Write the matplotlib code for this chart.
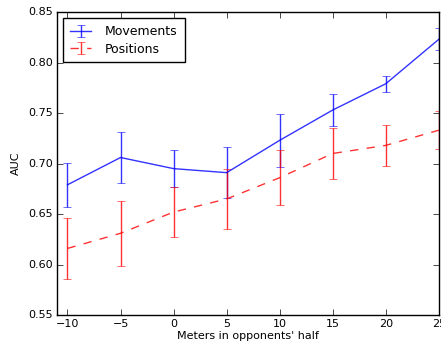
import matplotlib
matplotlib.use('Agg')
from matplotlib import pyplot as plt
import numpy as np

meters = [-10, -5, 0, 5, 10, 15, 20, 25]

# Movements: mean AUC and error bar half-widths
mov_auc = [0.679, 0.706, 0.695, 0.691, 0.723, 0.753, 0.779, 0.823]
mov_err = [0.022, 0.025, 0.018, 0.025, 0.026, 0.016, 0.008, 0.011]

# Positions
pos_auc = [0.616, 0.631, 0.652, 0.665, 0.686, 0.710, 0.718, 0.733]
pos_err = [0.030, 0.032, 0.025, 0.030, 0.027, 0.025, 0.020, 0.019]

plt.style.use('classic')
fig = plt.figure(figsize=(4.41, 3.44), dpi=100, facecolor='white')
ax = fig.add_axes([0.129, 0.084, 0.866, 0.881])

ax.errorbar(meters, mov_auc, yerr=mov_err, color='b', linestyle='-',
            capsize=3, alpha=0.8, label='Movements')
ax.errorbar(meters, pos_auc, yerr=pos_err, color='r', linestyle='--',
            capsize=3, alpha=0.8, label='Positions')

ax.set_xlim(-11, 25)
ax.set_ylim(0.55, 0.85)
ax.set_xticks(meters)
ax.set_yticks(np.arange(0.55, 0.851, 0.05))
ax.tick_params(labelsize=8, pad=3)
ax.set_xlabel("Meters in opponents' half", fontsize=8, labelpad=1)
ax.set_ylabel('AUC', fontsize=8)

leg = ax.legend(loc='upper left', fontsize=9, numpoints=1,
                handlelength=1.7, handletextpad=1.1, labelspacing=0.35,
                borderaxespad=0.5, borderpad=0.55)
leg.get_frame().set_linewidth(1)

fig.savefig('out.png', dpi=100, facecolor='white')
